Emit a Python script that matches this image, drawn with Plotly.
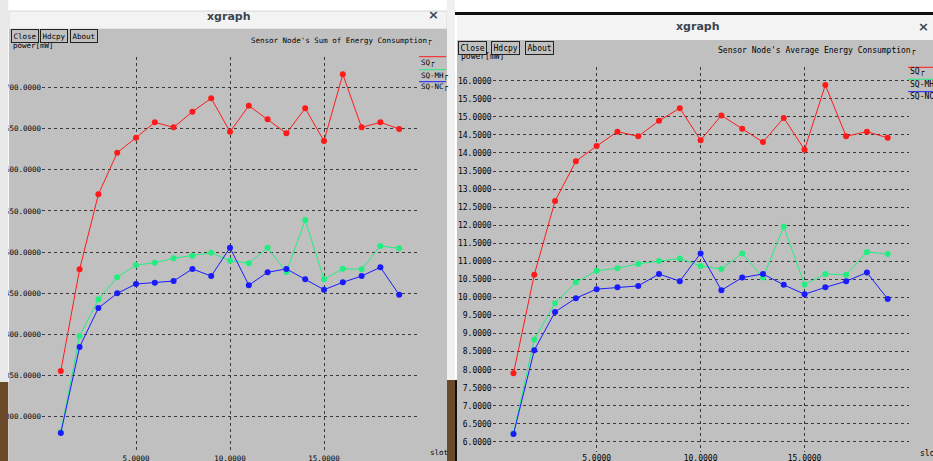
import plotly.graph_objects as go

W, H = 933, 461
def X(px): return px / W
def Y(py): return 1 - py / H

slots = list(range(1, 20))
series_names = ["SQ", "SQ-MH", "SQ-NC"]
series_colors = ["#ff1a1a", "#22ee80", "#1a1aff"]

# Left: Sensor Node's Sum of Energy Consumption
sum_sq = [355.5, 479.1, 570.2, 620.8, 639.0, 657.7, 651.6, 670.6, 686.9, 646.3,
          677.9, 661.4, 644.4, 674.7, 635.0, 716.0, 651.6, 657.7, 649.6]
sum_mh = [281.0, 398.0, 442.6, 469.4, 484.3, 487.1, 492.5, 495.6, 499.3, 489.6,
          486.4, 505.3, 475.8, 539.0, 467.0, 479.8, 479.1, 507.4, 504.6]
sum_nc = [280.2, 384.7, 432.1, 449.9, 461.2, 462.8, 464.9, 479.5, 470.9, 505.3,
          459.7, 475.5, 479.5, 467.0, 454.3, 463.3, 470.9, 481.5, 448.2]

# Right: Sensor Node's Average Energy Consumption
avg_sq = [7.90, 10.63, 12.67, 13.77, 14.19, 14.59, 14.46, 14.89, 15.24, 14.35,
          15.04, 14.67, 14.30, 14.97, 14.09, 15.88, 14.46, 14.59, 14.42]
avg_mh = [6.24, 8.84, 9.84, 10.42, 10.74, 10.81, 10.93, 11.01, 11.08, 10.87,
          10.79, 11.22, 10.55, 11.96, 10.36, 10.65, 10.63, 11.26, 11.20]
avg_nc = [6.22, 8.54, 9.60, 9.98, 10.23, 10.28, 10.32, 10.65, 10.45, 11.22,
          10.20, 10.55, 10.65, 10.35, 10.09, 10.28, 10.45, 10.69, 9.96]

left_yticks = [300, 350, 400, 450, 500, 550, 600, 650, 700]
right_yticks = [6 + 0.5 * i for i in range(21)]
x_ticks = [5, 10, 15]

GRAY = "#c0c0c0"
MONO = "DejaVu Sans Mono"

fig = go.Figure()
for vals, name, col in zip([sum_sq, sum_mh, sum_nc], series_names, series_colors):
    fig.add_trace(go.Scatter(x=slots, y=vals, name=name, mode="lines+markers",
                             line=dict(color=col, width=1),
                             marker=dict(color=col, size=6), xaxis="x", yaxis="y"))
for vals, name, col in zip([avg_sq, avg_mh, avg_nc], series_names, series_colors):
    fig.add_trace(go.Scatter(x=slots, y=vals, name=name, mode="lines+markers",
                             line=dict(color=col, width=1),
                             marker=dict(color=col, size=6), xaxis="x2", yaxis="y2"))

grid = dict(showgrid=True, gridcolor="#3a3a3a", griddash="dot", gridwidth=1,
            zeroline=False, showline=False, ticks="", tickformat=".4f",
            color="#000", automargin=False)
fig.update_layout(
    width=W, height=H, margin=dict(l=0, r=0, t=0, b=0, pad=0, autoexpand=False),
    paper_bgcolor="white", plot_bgcolor="rgba(0,0,0,0)", showlegend=False,
    xaxis=dict(domain=[X(42), X(418)], range=[0, 20], tickvals=x_ticks, anchor="y",
               tickfont=dict(family=MONO, size=7.5, color="#000"), **grid),
    yaxis=dict(domain=[Y(452), Y(57)], range=[257.1, 737.1], tickvals=left_yticks, anchor="x",
               tickfont=dict(family=MONO, size=7.5, color="#000"), ticklabelstandoff=0, **grid),
    xaxis2=dict(domain=[X(492.7), X(908.5)], range=[0, 20], tickvals=x_ticks, anchor="y2",
                tickfont=dict(family=MONO, size=8, color="#000"), **grid),
    yaxis2=dict(domain=[Y(452), Y(67)], range=[5.723, 16.379], tickvals=right_yticks, anchor="x2",
                tickfont=dict(family=MONO, size=8, color="#000"), ticklabelstandoff=0, **grid),
)

shapes = []
def rect(x0, y0, x1, y1, fill, layer="below", line=None):
    shapes.append(dict(type="rect", xref="paper", yref="paper",
                       x0=X(x0), x1=X(x1), y0=Y(y1), y1=Y(y0), fillcolor=fill,
                       line=line or dict(width=0), layer=layer))
# left window
rect(9, 11, 447, 29, "#f3f3f3", line=dict(color="#d8d8d8", width=1))
rect(9, 29, 447, 461, GRAY)
# gap between windows
rect(447, 0, 455, 380, "#f0f0f0")
rect(447, 380, 455, 461, "#6b4a2c")
rect(455, 380, 457, 461, "#111111")
# right window
rect(455, 12, 933, 15, "#111111")
rect(457, 15, 933, 40, "#f3f3f3")
rect(457, 40, 933, 461, GRAY)
# left desktop strip (clips leading digit of tick labels)
rect(0, 0, 8.3, 382, "#e8e8e8", layer="above")
rect(0, 382, 8.3, 461, "#6b4a2c", layer="above")

# legend swatches
for i, col in enumerate(series_colors):
    yy = [56.7, 69.7, 81.7][i]
    shapes.append(dict(type="line", xref="paper", yref="paper", x0=X(419), x1=X(446),
                       y0=Y(yy), y1=Y(yy), line=dict(color=col, width=1)))
    yy2 = [67.3, 79.3, 91.7][i]
    shapes.append(dict(type="line", xref="paper", yref="paper", x0=X(908), x1=X(933),
                       y0=Y(yy2), y1=Y(yy2), line=dict(color=col, width=1)))
fig.update_layout(shapes=shapes)

ann = []
def text(px, py, s, size=8, xanchor="left", yanchor="middle", family=MONO, color="#000", **kw):
    ann.append(dict(x=X(px), y=Y(py), xref="paper", yref="paper", text=s, showarrow=False,
                    xanchor=xanchor, yanchor=yanchor,
                    font=dict(family=family, size=size, color=color), **kw))

# title bars
text(229, 16, "<b>xgraph</b>", size=11, xanchor="center", family="DejaVu Sans", color="#3a4550")
text(433, 15, "<b>×</b>", size=13, xanchor="center", family="DejaVu Sans", color="#3a4550")
text(698, 27, "<b>xgraph</b>", size=11, xanchor="center", family="DejaVu Sans", color="#3a4550")
text(923, 27, "<b>×</b>", size=13, xanchor="center", family="DejaVu Sans", color="#3a4550")

# axis labels (drawn before buttons so buttons overlap them)
text(11, 45.5, "power[mW]", size=7.5)
text(459, 56.5, "power[mW]", size=8)
text(428, 452, "slot", size=7.5)
text(918, 453, "slot", size=8)

# chart titles
text(249, 40, "Sensor Node's Sum of Energy Consumption┌", size=7.5)
text(715.7, 51, "Sensor Node's Average Energy Consumption┌", size=8)

# legends
for i, nm in enumerate(series_names):
    text(419, [62.5, 75, 87][i], nm + "┌", size=7.5)
    text(908, [72.5, 84.5, 96.5][i], nm + ("┌" if i == 0 else ""), size=8)

# buttons
for bx, lab in zip([11, 40, 70], ["Close", "Hdcpy", "About"]):
    text(bx, 29, lab, size=7.5, yanchor="top", bgcolor=GRAY, bordercolor="#222",
         borderwidth=1, borderpad=1.5)
for bx, lab in zip([458, 491, 525], ["Close", "Hdcpy", "About"]):
    text(bx, 41, lab, size=8, yanchor="top", bgcolor=GRAY, bordercolor="#222",
         borderwidth=1, borderpad=1.5)

fig.update_layout(annotations=ann)
fig.write_html("out.html", config={"displayModeBar": False},
               post_script="document.body.style.margin='0';document.body.style.overflow='hidden';")
